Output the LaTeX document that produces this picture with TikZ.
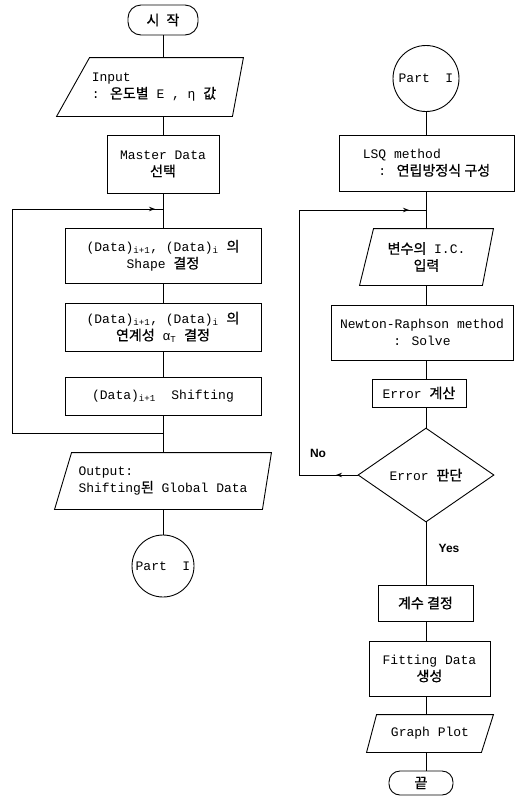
\documentclass[tikz,border=0pt]{standalone}
\usepackage{fontspec}
\setmainfont{Liberation Mono}
\newfontfamily\kr{Noto Sans CJK KR}[Scale=1.08,FakeBold=0.8]
\newfontfamily\labfont{Liberation Sans}
\usetikzlibrary{shapes.geometric,arrows.meta}

\tikzset{
  txt/.style={font=\fontsize{13}{17}\selectfont},
  box/.style={draw, rectangle, inner sep=0pt, align=center, txt},
  term/.style={box, rounded corners=13pt},
  io/.style={rectangle, inner sep=0pt, align=center, txt},
  decide/.style={draw, diamond, inner sep=0pt, txt},
  conn/.style={draw, circle, inner sep=0pt, txt},
  lab/.style={font=\labfont\bfseries\fontsize{12}{14}\selectfont},
  tip/.style={-{Stealth[length=6pt,width=4.5pt]}},
}

\begin{document}
\begin{tikzpicture}[x=1pt,y=-1pt,line width=0.9pt]

  \useasboundingbox (0,0) rectangle (524,796);

  \coordinate (lcol) at (163,0);
  \coordinate (rcol) at (426,0);

  % Left column
  \node[term, minimum width=70pt, minimum height=30pt] (start) at (163,20) {{\kr 시\hspace{7pt}작}};
  \node[io, minimum width=186pt, minimum height=58pt, align=left] (input) at (150,87) {\hspace*{8pt}Input\\\hspace*{8pt}: {\kr 온도별} E , η {\kr 값}};
  \node[box, minimum width=112pt, minimum height=58pt] (master) at (163,164) {Master Data\\{\kr 선택}};
  \node[box, minimum width=196pt, minimum height=55pt] (shape) at (163,255.5) {(Data)\textsubscript{i+1}, (Data)\textsubscript{i} {\kr 의}\\Shape {\kr 결정}};
  \node[box, minimum width=196pt, minimum height=48pt] (link) at (163,327) {(Data)\textsubscript{i+1}, (Data)\textsubscript{i} {\kr 의}\\{\kr 연계성} α\textsubscript{T} {\kr 결정}};
  \node[box, minimum width=196pt, minimum height=38pt] (shift) at (163,396) {(Data)\textsubscript{i+1}\ \ Shifting};
  \node[io, minimum width=216pt, minimum height=56pt, align=left] (output) at (163,481) {Output:\\Shifting{\kr 된} Global Data};
  \node[conn, minimum size=62pt] (partL) at (163,566) {Part\ \ I};

  % Right column
  \node[conn, minimum size=66pt] (partR) at (426,78.5) {Part\ \ I};
  \node[box, minimum width=175pt, minimum height=56pt, align=left] (lsq) at (426.5,163) {LSQ method\\\ \ : {\kr 연립방정식 구성}};
  \node[io, minimum width=133pt, minimum height=56pt] (ic) at (426.5,257) {{\kr 변수의} I.C.\\{\kr 입력}};
  \node[box, minimum width=182pt, minimum height=55pt] (newton) at (422,332.5) {Newton-Raphson method\\: Solve};
  \node[box, minimum width=94pt, minimum height=28pt] (err) at (419,393) {Error {\kr 계산}};
  \node[decide, minimum width=136pt, minimum height=94pt] (judge) at (426,475) {Error {\kr 판단}};
  \node[box, minimum width=95pt, minimum height=36pt] (coef) at (425.5,603) {{\kr 계수 결정}};
  \node[box, minimum width=121pt, minimum height=55pt] (fit) at (429.5,668.5) {Fitting Data\\{\kr 생성}};
  \node[io, minimum width=126pt, minimum height=37pt] (graph) at (430,733.5) {Graph Plot};
  \node[term, minimum width=64pt, minimum height=24pt, rounded corners=11pt] (stop) at (421,783) {{\kr 끝}};

  \node[lab] (no) at (318,453) {No};
  \node[lab] (yes) at (449,548) {Yes};

  % Draw data boxes
  \draw ([xshift=33pt]input.north west) -- (input.north east) -- ([xshift=-11pt]input.south east) -- (input.south west) -- cycle;
  \draw ([xshift=17pt]output.north west) -- (output.north east) -- ([xshift=-9pt]output.south east) -- (output.south west) -- cycle;
  \draw ([xshift=14pt]ic.north west) -- (ic.north east) -- ([xshift=-11pt]ic.south east) -- (ic.south west) -- cycle;
  \draw ([xshift=10pt]graph.north west) -- (graph.north east) -- ([xshift=-12pt]graph.south east) -- (graph.south west) -- cycle;

  % Draw left flow
  \draw (lcol |- start.south) -- (lcol |- input.north);
  \draw (lcol |- input.south) -- (lcol |- master.north);
  \draw (master) -- (shape);
  \draw (shape) -- (link);
  \draw (link) -- (shift);
  \draw (shift) -- (output);
  \draw (output) -- (partL);

  % Left loop
  \coordinate (ljoin) at (163,433);
  \coordinate (lback) at (12,433);
  \coordinate (lup) at (12,209);
  \coordinate (lhead) at (155,209);
  \coordinate (ltop) at (163,209);
  \draw (ljoin) -- (lback) -- (lup) -- (ltop);
  \draw[tip] (lup) -- (lhead);

  % Draw right flow
  \draw (rcol |- partR.south) -- (rcol |- lsq.north);
  \draw (rcol |- lsq.south) -- (rcol |- ic.north);
  \draw (rcol |- ic.south) -- (rcol |- newton.north);
  \draw (rcol |- newton.south) -- (rcol |- err.north);
  \draw (rcol |- err.south) -- (judge.north);
  \draw (judge.south) -- (rcol |- coef.north);
  \draw (rcol |- coef.south) -- (rcol |- fit.north);
  \draw (rcol |- fit.south) -- (rcol |- graph.north);
  \draw (rcol |- graph.south) -- (rcol |- stop.north);

  % Right loop
  \coordinate (rjoin) at (426,210);
  \coordinate (rup) at (299,210);
  \coordinate (rback) at (299,473);
  \coordinate (rhead) at (409,210);
  \coordinate (nohead) at (336,475);
  \draw (judge.west) -- (rback |- judge.west) -- (rup) -- (rjoin);
  \draw[tip] (judge.west) -- (nohead);
  \draw[tip] (rup) -- (rhead);

\end{tikzpicture}
\end{document}
